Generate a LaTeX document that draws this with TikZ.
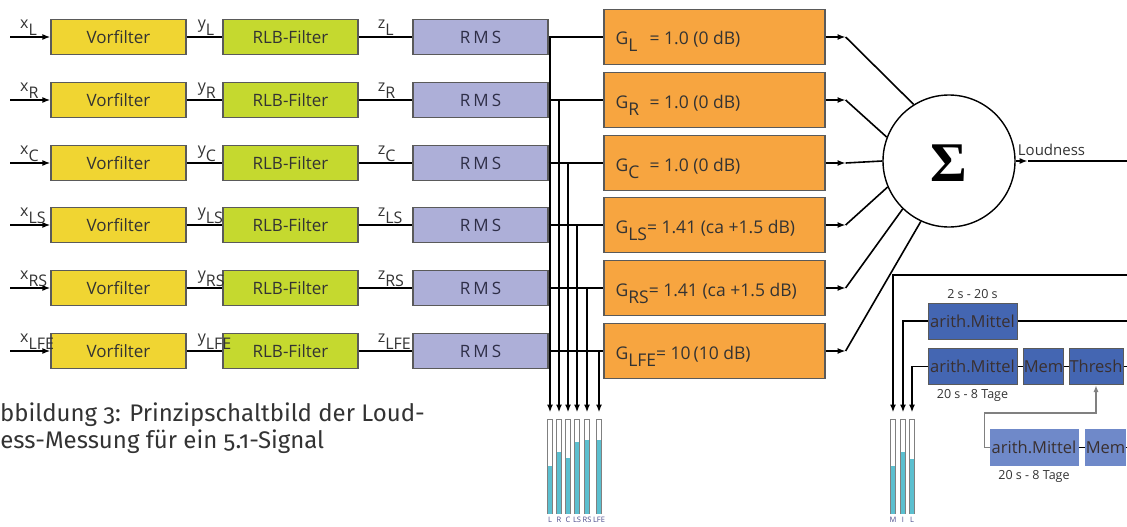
\documentclass[tikz,border=0pt]{standalone}
\usepackage{fontspec}
\setmainfont{Open Sans}
\newfontfamily\capfont[Numbers=OldStyle]{Fira Sans}
\newfontfamily\sigfont{Liberation Serif}
\usetikzlibrary{arrows.meta,calc}
\definecolor{vfy}{HTML}{F0D532}
\definecolor{rlbg}{HTML}{C5D92F}
\definecolor{rmsc}{HTML}{ADAFD8}
\definecolor{orng}{HTML}{F7A540}
\definecolor{bdk}{HTML}{4466B2}
\definecolor{blt}{HTML}{6F89C9}
\definecolor{mfill}{HTML}{5BBFCF}
\definecolor{bord}{HTML}{5A5A5A}
\definecolor{txt}{HTML}{333333}
\definecolor{btxt}{HTML}{3A3030}
\definecolor{mlab}{HTML}{4A4A8A}
\newcommand\sg[2]{#1\raisebox{-7pt}{#2}}
\newcommand\gs[1]{G\raisebox{-7pt}{#1}}
\tikzset{
  blk/.style={draw=bord, line width=1.2pt, minimum width=135pt, minimum height=35pt, inner sep=0pt, font=\fontsize{17}{20}\selectfont, text=txt},
  vor/.style={blk, fill=vfy},
  rlb/.style={blk, fill=rlbg},
  rmsbox/.style={blk, fill=rmsc, text=txt!90!blue},
  gainbox/.style={draw=bord, line width=1.2pt, fill=orng, minimum width=221pt, minimum height=55pt, inner sep=0pt},
  gaintext/.style={anchor=base west, inner sep=0pt, font=\fontsize{17.5}{20}\selectfont, text=txt},
  wire/.style={line width=1.6pt, black},
  arr/.style={wire, -{Latex[length=8pt,width=6pt]}},
  sig/.style={anchor=south west, inner sep=1pt, font=\fontsize{16}{19}\selectfont, text=txt},
  meter/.style={draw=gray, line width=1pt, fill=white, minimum width=5pt, minimum height=94pt, inner sep=0pt},
  mlabel/.style={anchor=north, inner sep=0pt, font=\fontsize{7.5}{7.5}\selectfont, text=mlab},
  bbox/.style={draw=bord, line width=1pt, fill=bdk, minimum height=36pt, inner sep=0pt, font=\fontsize{16.5}{19}\selectfont, text=btxt},
  lbox/.style={bbox, fill=blt, draw=blt},
  small/.style={inner sep=0pt, font=\fontsize{12.5}{14}\selectfont, text=txt},
  garr/.style={line width=1.4pt, gray, -{Latex[length=7pt,width=5pt]}},
}
\begin{document}
\begin{tikzpicture}[x=1pt,y=-1pt]
\path[use as bounding box] (0,0) rectangle (1127,527);
\clip (0,0) rectangle (1127,527);

% channel rows
\foreach \n/\y/\s/\g/\xm/\lv in {
  L/37/L/{\makebox[34pt][l]{\gs{L}}= 1.0 (0 dB)}/550/466,
  R/100/R/{\makebox[34pt][l]{\gs{R}}= 1.0 (0 dB)}/559/452,
  C/163/C/{\makebox[34pt][l]{\gs{C}}= 1.0 (0 dB)}/568/458,
  LS/225/LS/{\gs{LS}= 1.41 (ca +1.5 dB)}/577/442,
  RS/288/RS/{\gs{RS}= 1.41 (ca +1.5 dB)}/587/440,
  LFE/351/LFE/{\gs{LFE}= 10\,(10 dB)}/599/440}{
  \node[vor] (vf\n) at (118.5,\y) {Vorfilter};
  \node[rlb] (rlb\n) at (290.5,\y) {RLB-Filter};
  \node[rmsbox] (rms\n) at (480.5,\y) {R\hspace{3pt}M\hspace{3pt}S};
  \node[gainbox] (g\n) at (714.5,\y) {};
  \node[gaintext] (gt\n) at ($(g\n.west)+(12,8)$) {\g};
  \coordinate (in\n) at (10,\y);
  \draw[arr] (in\n) -- (vf\n.west);
  \draw[wire] (vf\n.east) -- (rlb\n.west);
  \draw[wire] (rlb\n.east) -- (rms\n.west);
  \node[sig] at ($(in\n)+(9,0)$) {\sg{x}{\s}};
  \node[sig] at ($(vf\n.east |- in\n)+(10,0)$) {\sg{y}{\s}};
  \node[sig] at ($(rlb\n.east |- in\n)+(18,0)$) {\sg{z}{\s}};
  % meter
  \node[meter] (m\n) at (\xm,466) {};
  \fill[mfill] ([xshift=1pt]m\n.south west) rectangle ([xshift=-1pt]m\n.south east |- 0,\lv);
  \node[mlabel] at ([yshift=-3pt]m\n.south) {\s};
}
% bus verticals and horizontals
\foreach \n in {L,R,C,LS,RS,LFE}{
  \draw[arr, shorten >=6pt] (m\n |- rms\n.east) -- (m\n.north);
}
\foreach \n in {L,R,C,LS,RS,LFE}{
  \draw[wire] (rms\n.east) -- (g\n.west);
}

% summation
\node[circle, draw, line width=1.4pt, minimum size=132pt, inner sep=0pt] (sum) at (949,161) {};
\node[inner sep=0pt, font=\sigfont\bfseries\fontsize{56}{56}\selectfont] at ([yshift=-2pt]sum.center) {Σ};
\foreach \n/\a in {L/122,R/159,C/180,LS/203,RS/226,LFE/245}{
  \draw[arr] (g\n.east) -- ++(20,0) coordinate (a\n);
  \draw[wire] (a\n) -- (sum.\a);
}
\coordinate (loudR) at (1127,161);
\draw[arr] (sum.east) -- ++(12,0) coordinate (loudA);
\draw[wire] (loudA) -- (loudR);
\node[anchor=south west, inner sep=0pt, font=\fontsize{15}{18}\selectfont, text=txt] at ([xshift=2pt,yshift=5pt]sum.east) {Loudness};

% right part meters
\foreach \n/\xm/\lv/\s in {M/893/466/M, I/903/452/I, LL/912/459/L}{
  \node[meter] (m\n) at (\xm,466) {};
  \fill[mfill] ([xshift=1pt]m\n.south west) rectangle ([xshift=-1pt]m\n.south east |- 0,\lv);
  \node[mlabel] at ([yshift=-3pt]m\n.south) {\s};
}
\coordinate (fbR) at (1127,275);
\draw[arr, shorten >=6pt] (fbR) -- (mM |- fbR) -- (mM.north);

\node[bbox, minimum width=89pt] (am1) at (972.5,321) {arith.Mittel};
\node[small, anchor=south] at ([yshift=4pt]am1.north) {2 s - 20 s};
\coordinate (am1R) at (1127,321);
\draw[wire] (am1.east) -- (am1R);
\draw[arr, shorten >=6pt] (am1.west) -| (mI.north);

\node[bbox, minimum width=89pt] (am2) at (972.5,366.5) {arith.Mittel};
\node[small, anchor=north] at ([yshift=-4pt]am2.south) {20 s - 8 Tage};
\node[bbox, minimum width=39pt] (mem1) at (1043.5,366.5) {Mem};
\node[bbox, minimum width=54pt] (thr) at (1096,366.5) {Thresh};
\coordinate (thrR) at (1127,366.5);
\draw[wire] (am2.east) -- (mem1.west);
\draw[wire] (mem1.east) -- (thr.west);
\draw[wire] (thr.east) -- (thrR);
\draw[arr, shorten >=6pt] (am2.west) -| (mLL.north);

\node[lbox, minimum width=88pt] (am3) at (1034,447.5) {arith.Mittel};
\node[small, anchor=north] at ([yshift=-4pt]am3.south) {20 s - 8 Tage};
\node[lbox, minimum width=39pt] (mem2) at (1105.5,447.5) {Mem};
\coordinate (mem2R) at (1127,447.5);
\draw[wire] (am3.east) -- (mem2.west);
\draw[wire] (mem2.east) -- (mem2R);
\draw[garr] (am3.west) -- ++(-5,0) |- ([yshift=-28pt]thr.south) -- (thr.south);

% caption
\node[anchor=base east, inner sep=0pt, font=\capfont\fontsize{24}{27}\selectfont, text=txt] (cap1) at (425,421) {Abbildung 3: Prinzipschaltbild der Loud-};
\node[anchor=base west, inner sep=0pt, font=\capfont\fontsize{24}{27}\selectfont, text=txt] (cap2) at ([yshift=-27pt]cap1.base west) {ness-Messung für ein 5.1-Signal};
\end{tikzpicture}
\end{document}
